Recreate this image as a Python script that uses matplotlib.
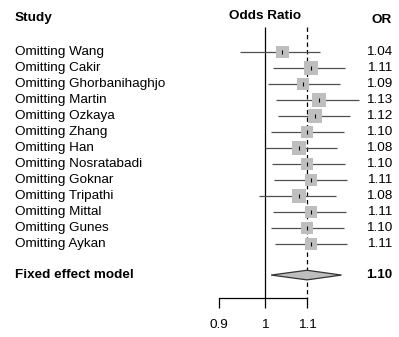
import numpy as np
import matplotlib
matplotlib.use("Agg")
from matplotlib import pyplot as plt

plt.rcParams["font.family"] = ["Liberation Sans", "DejaVu Sans"]

studies = ["Wang", "Cakir", "Ghorbanihaghjo", "Martin", "Ozkaya", "Zhang", "Han",
           "Nosratabadi", "Goknar", "Tripathi", "Mittal", "Gunes", "Aykan"]
odds = [1.04, 1.11, 1.09, 1.13, 1.12, 1.10, 1.08, 1.10, 1.11, 1.08, 1.11, 1.10, 1.11]
ci_low = [0.945, 1.018, 1.007, 1.025, 1.030, 1.014, 1.000, 1.016, 1.020, 0.986, 1.018, 1.014, 1.023]
ci_high = [1.133, 1.200, 1.186, 1.238, 1.213, 1.197, 1.178, 1.199, 1.205, 1.175, 1.202, 1.197, 1.205]
box_px = [12, 13, 12, 13, 13, 12, 13, 12, 12, 13, 12, 12, 12]

fixed_or = 1.10
fixed_low = 1.014
fixed_high = 1.19

tick_vals = [0.9, 1, 1.1]
tick_labels = ["0.9", "1", "1.1"]

fig = plt.figure(figsize=(3.99, 3.37), dpi=100)
ax = fig.add_axes([0, 0, 1, 1])
ax.set_xscale("log")
ax.set_xlim(np.exp(-265 / 440), np.exp(134 / 440))
ax.set_ylim(17.81, -3.25)

rows = np.arange(len(studies))
fixed_row = 13.94
axis_row = 15.375
top_row = -1.56

# reference lines: no effect and pooled estimate
ax.vlines(1, top_row, axis_row, color="black", lw=0.9)
ax.vlines(fixed_or, top_row, axis_row, color="black", lw=0.9, linestyles=(0, (3.5, 2.5)))

# confidence intervals and weighted boxes
ax.hlines(rows, ci_low, ci_high, color="#505050", lw=0.9, zorder=2)
ax.scatter(odds, rows, marker="s", s=[(p * 0.75) ** 2 for p in box_px],
           color="#bebebe", edgecolor="none", zorder=3)
ax.scatter(odds, rows, marker="|", s=5, color="black", lw=0.8, zorder=4)

# pooled diamond
ax.fill([fixed_low, fixed_or, fixed_high, fixed_or],
        [fixed_row, fixed_row - 0.3, fixed_row, fixed_row + 0.3],
        facecolor="#bebebe", edgecolor="#333333", lw=0.9, zorder=3)

# bottom axis
for side in ["top", "left", "right"]:
    ax.spines[side].set_visible(False)
ax.spines["bottom"].set_position(("data", axis_row))
ax.spines["bottom"].set_bounds(0.9, 1.1)
ax.spines["bottom"].set_linewidth(0.9)
ax.set_xticks(tick_vals)
ax.set_xticklabels(tick_labels, fontsize=9.7)
ax.xaxis.set_minor_locator(matplotlib.ticker.NullLocator())
ax.tick_params(axis="x", direction="out", length=7, width=0.9, pad=8)
ax.set_yticks([])

tr = ax.get_yaxis_transform()
fs = 9.7
ax.text(15 / 399, -2.1, "Study", transform=tr, fontsize=fs, fontweight="bold", va="center")
ax.text(265 / 399, -2.25, "Odds Ratio", transform=tr, fontsize=fs, fontweight="bold",
        va="center", ha="center")
ax.text(392 / 399, -2.0, "OR", transform=tr, fontsize=fs, fontweight="bold",
        va="center", ha="right")

for r, name, o in zip(rows, studies, odds):
    ax.text(15 / 399, r, "Omitting " + name, transform=tr, fontsize=fs, va="center")
    ax.text(392 / 399, r, f"{o:.2f}", transform=tr, fontsize=fs, va="center", ha="right")

ax.text(15 / 399, fixed_row, "Fixed effect model", transform=tr, fontsize=fs,
        fontweight="bold", va="center")
ax.text(392 / 399, fixed_row, f"{fixed_or:.2f}", transform=tr, fontsize=fs,
        fontweight="bold", va="center", ha="right")

fig.savefig("out.png", dpi=100)
